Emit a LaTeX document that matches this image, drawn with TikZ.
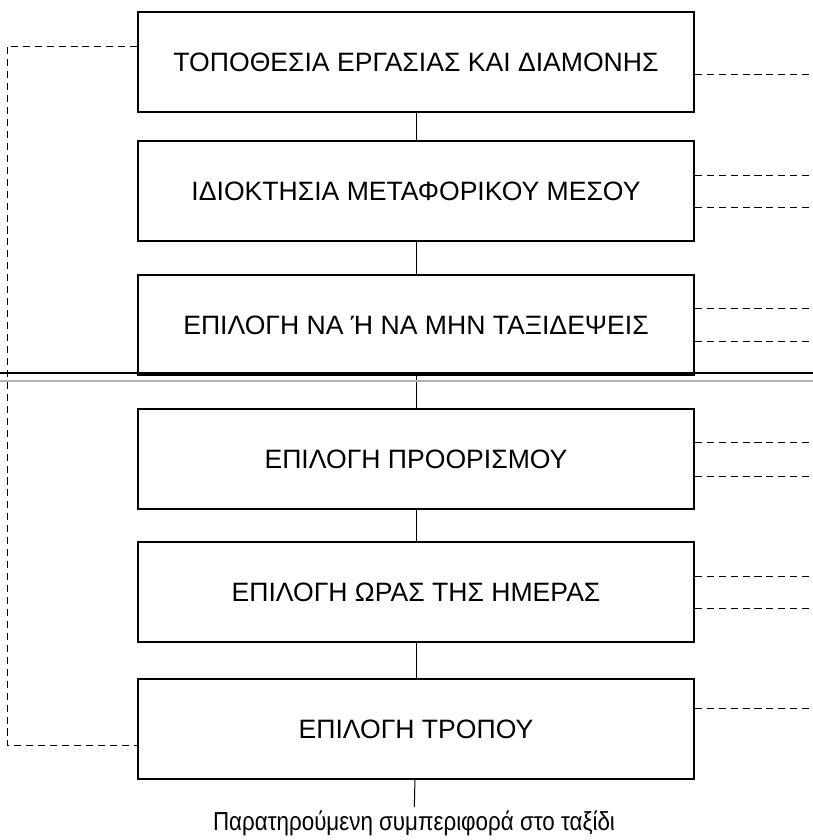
\documentclass[tikz,border=0pt]{standalone}
\usepackage{fontspec}
\setmainfont{Liberation Sans}
\usepackage{tikz}

\begin{document}
\begin{tikzpicture}[x=0.025cm, y=-0.025cm, thick]
    \tikzstyle{level} = [rectangle, draw, line width=0.9pt, minimum width=13.9cm, minimum height=2.5cm, text centered, font=\fontsize{18.9}{22}\selectfont]
    \tikzstyle{link} = [line width=0.7pt]
    \tikzstyle{dashline} = [line width=0.6pt, dash pattern=on 5pt off 3.5pt]
    \useasboundingbox (0,0) rectangle (813,840);
    % the six levels of choice
    \node[level] (b1) at (416, 62) {ΤΟΠΟΘΕΣΙΑ ΕΡΓΑΣΙΑΣ ΚΑΙ ΔΙΑΜΟΝΗΣ};
    \node[level] (b2) at (416, 191) {ΙΔΙΟΚΤΗΣΙΑ ΜΕΤΑΦΟΡΙΚΟΥ ΜΕΣΟΥ};
    \node[level] (b3) at (416, 325) {ΕΠΙΛΟΓΗ ΝΑ Ή ΝΑ ΜΗΝ ΤΑΞΙΔΕΨΕΙΣ};
    \node[level] (b4) at (416, 459) {ΕΠΙΛΟΓΗ ΠΡΟΟΡΙΣΜΟΥ};
    \node[level] (b5) at (416, 592) {ΕΠΙΛΟΓΗ ΩΡΑΣ ΤΗΣ ΗΜΕΡΑΣ};
    \node[level] (b6) at (416, 729) {ΕΠΙΛΟΓΗ ΤΡΟΠΟΥ};
    \node[font=\fontsize{18.5}{20}\selectfont, inner sep=2pt] (obs) at (414, 823) {\scalebox{0.86}[1]{Παρατηρούμενη συμπεριφορά στο ταξίδι}};
    \draw[link] (b1) -- (b2);
    \draw[link] (b2) -- (b3);
    \draw[link] (b3) -- (b4);
    \draw[link] (b4) -- (b5);
    \draw[link] (b5) -- (b6);
    \draw[link] (b6) -- (obs);
    % feedback on the left
    \coordinate (l1) at (7, 46);
    \coordinate (l6) at (7, 745);
    \draw[dashline] (l1 -| b1.west) -- (l1) -- (l6) -- (l6 -| b6.west);
    % dashed lines to the right edge
    \coordinate (r1) at (813, 74);
    \coordinate (r2a) at (813, 175);
    \coordinate (r2b) at (813, 207);
    \coordinate (r3a) at (813, 308);
    \coordinate (r3b) at (813, 341);
    \coordinate (r4a) at (813, 442);
    \coordinate (r4b) at (813, 476);
    \coordinate (r5a) at (813, 576);
    \coordinate (r5b) at (813, 608);
    \coordinate (r6) at (813, 708);
    \draw[dashline] (r1 -| b1.east) -- (r1);
    \draw[dashline] (r2a -| b2.east) -- (r2a);
    \draw[dashline] (r2b -| b2.east) -- (r2b);
    \draw[dashline] (r3a -| b3.east) -- (r3a);
    \draw[dashline] (r3b -| b3.east) -- (r3b);
    \draw[dashline] (r4a -| b4.east) -- (r4a);
    \draw[dashline] (r4b -| b4.east) -- (r4b);
    \draw[dashline] (r5a -| b5.east) -- (r5a);
    \draw[dashline] (r5b -| b5.east) -- (r5b);
    \draw[dashline] (r6 -| b6.east) -- (r6);
    % page join
    \draw[line width=0.9pt] (0, 373) -- (813, 373);
    \draw[line width=0.9pt, gray!60] (0, 381) -- (813, 381);
\end{tikzpicture}
\end{document}
